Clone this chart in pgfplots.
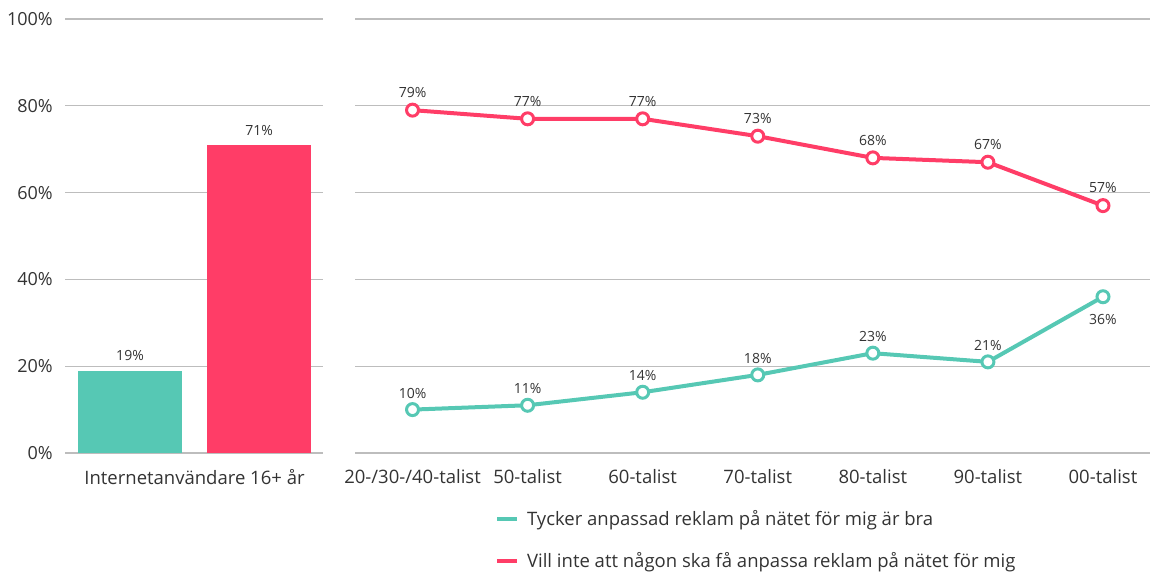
\documentclass[border=0pt]{standalone}
\usepackage{pgfplots}
\pgfplotsset{compat=1.18}
\usepackage{fontspec}
\setmainfont{Open Sans}
\definecolor{tealc}{HTML}{56C8B4}
\definecolor{redc}{HTML}{FF3D67}
\definecolor{gridc}{HTML}{BDBDBD}
\definecolor{txt}{HTML}{333333}
\tikzset{lbl/.style={font=\fontsize{14}{16}\selectfont, text=txt, inner sep=0pt}}
\pgfplotsset{
  /pgf/number format/assume math mode=true,
  common/.style={
    scale only axis, height=434pt, ymin=0, ymax=100,
    ytick={0,20,40,60,80,100},
    ymajorgrids, grid style={gridc, line width=1.2pt},
    axis line style={draw=none}, major tick length=0pt,
    tick label style={font=\fontsize{18.5}{21}\selectfont, text=txt},
    xticklabel style={anchor=north, inner sep=0pt, yshift=-16pt},
    clip=false,
  },
}
\begin{document}
\begin{tikzpicture}[x=1pt,y=1pt]
\useasboundingbox (0,0) rectangle (1150,571);
\begin{axis}[common, at={(65pt,118pt)}, anchor=south west, width=258pt,
  xmin=-0.504, xmax=1.496,
  yticklabel={\pgfmathprintnumber{\tick}\%},
  yticklabel style={anchor=east, inner sep=0pt, xshift=-12pt, font=\fontsize{18}{21}\selectfont},
  xtick={0.5}, xticklabels={Internetanvändare 16+ år},
  nodes near coords={\pgfmathprintnumber{\pgfplotspointmeta}\%},
  every node near coord/.append style={lbl, anchor=south, yshift=9.5pt},
]
\addplot[ybar, bar width=0.806, bar shift=0pt, fill=tealc, draw=none] coordinates {(0,19)};
\addplot[ybar, bar width=0.806, bar shift=0pt, fill=redc, draw=none] coordinates {(1,71)};
\end{axis}
\begin{axis}[common, at={(355pt,118pt)}, anchor=south west, width=795pt,
  xmin=-0.5, xmax=6.4087,
  yticklabels={},
  xtick={0,...,6},
  xticklabels={20-/30-/40-talist,50-talist,60-talist,70-talist,80-talist,90-talist,00-talist},
  legend style={at={(0.176,-0.128)}, anchor=north west, draw=none, fill=none,
    font=\fontsize{18.5}{21}\selectfont, text=txt, row sep=21pt, inner sep=0pt,
    nodes={inner sep=2pt},
    /tikz/every odd column/.append style={column sep=6pt}},
  legend cell align=left,
  legend image code/.code={\draw[#1, line width=4pt] (0pt,0pt) -- (20pt,0pt);},
]
\addplot[tealc, line width=4pt, mark=*, mark size=6pt,
  mark options={fill=white, draw=tealc, line width=3pt}]
  coordinates {(0,10) (1,11) (2,14) (3,18) (4,23) (5,21) (6,36)};
\addlegendentry{Tycker anpassad reklam på nätet för mig är bra}
\addplot[redc, line width=4pt, mark=*, mark size=6pt,
  mark options={fill=white, draw=redc, line width=3pt},
  nodes near coords={\pgfmathprintnumber{\pgfplotspointmeta}\%},
  every node near coord/.append style={lbl, anchor=south, yshift=11pt}]
  coordinates {(0,79) (1,77) (2,77) (3,73) (4,68) (5,67) (6,57)};
\addlegendentry{Vill inte att någon ska få anpassa reklam på nätet för mig}
\addplot[draw=none, mark=none, forget plot,
  nodes near coords={\pgfmathprintnumber{\pgfplotspointmeta}\%},
  every node near coord/.append style={lbl, anchor=south, yshift=11pt}]
  coordinates {(0,10) (1,11) (2,14) (3,18) (4,23) (5,21)};
\addplot[draw=none, mark=none, forget plot,
  nodes near coords={\pgfmathprintnumber{\pgfplotspointmeta}\%},
  every node near coord/.append style={lbl, anchor=north, yshift=-17pt}]
  coordinates {(6,36)};
\end{axis}
\end{tikzpicture}
\end{document}
